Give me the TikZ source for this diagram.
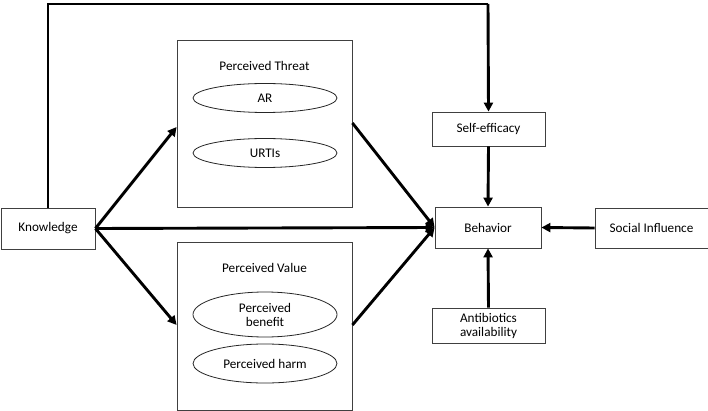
\documentclass[tikz,border=0pt]{standalone}
\usepackage{fontspec}
\setmainfont{Carlito}
\usetikzlibrary{arrows.meta,shapes.geometric}
\begin{document}
\begin{tikzpicture}[x=1pt,y=-1pt,
  txt/.style={font=\fontsize{13.2}{15}\selectfont},
  box/.style={txt,draw=black!75,line width=0.8pt,fill=white,inner sep=0pt,align=center},
  oval/.style={txt,draw=black!85,line width=0.8pt,ellipse,inner sep=0pt,align=center,minimum width=144pt},
  conn/.style={line width=2.9pt,-{Triangle[length=9pt,width=9pt]}},
  plain/.style={line width=2.9pt}]
\useasboundingbox (0,0) rectangle (708,411);
\node[box,minimum width=94pt,minimum height=41pt] (know) at (48,228.5) {Knowledge};
\node[box,minimum width=175pt,minimum height=167pt] (threat) at (264.5,123.5) {};
\node[txt] (tlab) at (264.5,66) {Perceived Threat};
\node[oval,minimum height=29pt] (ar) at (265,98) {AR};
\node[oval,minimum height=29pt] (urti) at (265,153) {URTIs};
\node[box,minimum width=175pt,minimum height=168pt] (value) at (264.5,326) {};
\node[txt] (vlab) at (264.5,268) {Perceived Value};
\node[oval,minimum height=45pt] (ben) at (265,314.5) {Perceived\\[-1pt]benefit};
\node[oval,minimum height=39pt] (harm) at (265,363.5) {Perceived harm};
\node[box,minimum width=106pt,minimum height=41pt] (beh) at (488,227.5) {Behavior};
\node[box,minimum width=113pt,minimum height=34pt] (self) at (488.5,129) {Self-efficacy};
\node[box,minimum width=113pt,minimum height=40pt] (soc) at (651.5,228) {Social Influence};
\node[box,minimum width=113pt,minimum height=35pt] (anti) at (488.5,325.5) {Antibiotics\\[-1pt]availability};
\coordinate (tl) at (48,4);
\coordinate (tr) at (488,4);
\draw[plain] (know.north) -- (tl) -- (tr);
\draw[conn] (tr) -- (self.north);
\draw[conn] (self.south) -- (beh.north);
\draw[conn] (soc.west) -- (beh.west-|beh.east);
\draw[conn] (anti.north) -- (beh.south);
\draw[conn] (know.east) -- (threat.west|-0,127);
\draw[conn] (know.east) -- (value.west|-0,325);
\draw[conn] (know.east) -- (beh.west);
\draw[conn] (threat.east|-0,123) -- (beh.west);
\draw[conn] (value.east|-0,325) -- (beh.west);
\end{tikzpicture}
\end{document}
